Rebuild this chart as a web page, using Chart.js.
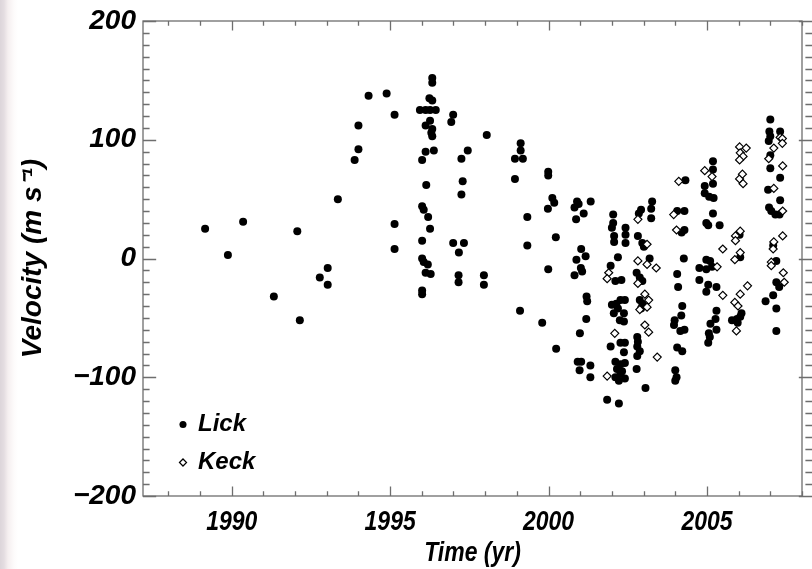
<!DOCTYPE html>
<html>
<head>
<meta charset="utf-8">
<script src="https://cdn.jsdelivr.net/npm/chart.js@4.4.1/dist/chart.umd.min.js"></script>
<style>
  html, body { margin: 0; padding: 0; background: #fff; }
  #wrap { position: relative; width: 812px; height: 569px; overflow: hidden;
          background: linear-gradient(to right, #dcd5da 0px, #e4dde1 4px, #f5eff0 8px, #fdfbfb 14px, #fff 18px); }
  canvas { position: absolute; left: 0; top: 0; }
</style>
</head>
<body>
<div id="wrap"><canvas id="rv" width="812" height="569"></canvas></div>
<script>
// Radial-velocity measurements: observation epoch (yr) and velocity (m/s)
const lickYear = [
  1989.16, 1989.88, 1990.36, 1991.33, 1992.07, 1992.15, 1992.78, 1993.03, 1993.03, 1993.35,
  1993.88, 1994.00, 1994.00, 1994.32, 1994.89, 1995.14, 1995.14, 1995.14, 1995.94, 1996.33,
  1996.33, 1996.24, 1996.33, 1996.12, 1996.26, 1996.44, 1996.26, 1996.12, 1996.33, 1996.30,
  1996.33, 1996.12, 1996.38, 1996.01, 1996.14, 1996.01, 1996.06, 1996.20, 1996.26, 1996.01,
  1996.01, 1996.06, 1996.19, 1996.12, 1996.28, 1996.01, 1996.01, 1996.99, 1996.93, 1997.45,
  1997.25, 1997.29, 1997.25, 1996.99, 1997.33, 1997.17, 1997.16, 1997.16, 1997.96, 1997.96,
  1998.05, 1999.12, 1999.12, 1998.94, 1999.19, 1998.94, 1999.10, 1999.33, 1999.33, 1999.99,
  1999.99, 2000.12, 2000.18, 1999.98, 1999.99, 1999.80, 2000.23, 2000.24, 2000.90, 2000.82,
  2000.95, 2001.11, 2000.87, 2001.33, 2001.03, 2001.17, 2000.88, 2001.02, 2001.06, 2000.82,
  2001.20, 2001.22, 2001.19, 2000.99, 2000.92, 2001.03, 2000.98, 2001.32, 2001.32,
  2002.04, 2002.04, 2002.00, 2002.07, 2002.07, 2002.43, 2002.43, 2002.43, 2002.19, 2001.96,
  2002.11, 2002.30, 2002.00, 2002.14, 2002.27, 2002.41, 2002.19, 2002.06, 2002.38, 2002.25,
  2002.38, 2001.96, 2002.27, 2002.41, 2002.38, 2002.11, 2002.27, 2002.41, 2002.16, 2002.32,
  2002.41, 2002.11, 2002.22, 2002.27, 2001.85, 2002.22,
  2002.85, 2002.92, 2003.27, 2003.24, 2003.24, 2002.82, 2002.96, 2003.01, 2003.19, 2002.78,
  2002.88, 2002.96, 2002.88, 2002.96, 2002.92, 2002.80, 2002.82, 2002.80, 2002.88, 2002.80,
  2002.78, 2003.06,
  2004.32, 2004.06, 2004.29, 2004.20, 2004.29, 2004.27, 2004.06, 2004.09, 2004.22, 2004.19,
  2003.98, 2003.96, 2004.16, 2004.29, 2004.06, 2004.22, 2004.00, 2004.04, 2004.00,
  2005.19, 2005.19, 2005.19, 2004.93, 2004.93, 2005.07, 2005.21, 2005.19, 2004.98, 2005.04,
  2005.40, 2004.98, 2005.10, 2004.76, 2004.98, 2005.16, 2004.76, 2005.04, 2005.30, 2004.98,
  2005.30, 2005.27, 2005.11, 2005.30, 2005.06, 2005.09, 2005.04,
  2006.03, 2006.05, 2006.09, 2006.05, 2005.95, 2005.79, 2005.97,
  2007.00, 2006.97, 2006.95, 2007.00, 2007.31, 2007.00, 2007.00, 2007.31, 2006.93, 2007.31,
  2006.96, 2007.03, 2007.16, 2007.29, 2007.09, 2007.19, 2007.19, 2007.28, 2007.09, 2006.85,
  2007.19, 2007.19
];
const lickVel = [
  25, 3, 31, -32, 23, -52, -16, -8, -22, 50,
  83, 92, 112, 137, 139, 121, 29, 8, 125, 152,
  148, 135, 133, 125, 125, 125, 116, 112, 109, 106,
  103, 90, 91, 83, 62, 44, 41, 35, 25, 15,
  0, -3, -5, -12, -13, -27, -30, 121, 115, 91,
  84, 65, 54, 13, 13, 5, -14, -20, -14, -22,
  104, 97, 91, 84, 84, 67, -44, 35, 11, 73,
  70, 51, 47, 42, -9, -54, 18, -76, 48, 43,
  46, 38, 33, 48, 8, 2, -1, -8, -11, -14,
  -32, -36, -51, -63, -87, -87, -94, -90, -100,
  37, 30, 26, 19, 14, 26, 20, 13, 1, -6,
  -19, -18, -39, -38, -35, -35, -42, -46, -46, -52,
  -53, -74, -71, -71, -79, -87, -89, -88, -93, -95,
  -101, -100, -103, -97, -119, -122,
  38, 41, 48, 42, 34, 19, 13, 10, 0, -12,
  -16, -19, -35, -38, -42, -66, -70, -74, -78, -82,
  -93, -109,
  66, 40, 40, 22, 24, 0, -13, -24, -40, -48,
  -52, -56, -61, -60, -75, -78, -94, -100, -103,
  82, 75, 63, 61, 55, 52, 51, 38, 30, 28,
  28, -1, -2, -8, -9, -7, -18, -22, -24, -28,
  -44, -51, -55, -60, -63, -66, -71,
  20, 1, -46, -49, -51, -52, -54,
  117, 107, 99, 103, 107, 87, 76, 68, 58, 49,
  43, 40, 37, 37, 11, -2, -20, -24, -31, -36,
  -42, -61
];
const keckYear = [
  2001.90, 2001.85, 2002.09, 2001.85, 2002.82, 2003.11, 2002.82, 2003.11, 2003.40, 2002.82,
  2003.04, 2003.16, 2003.11, 2002.88, 2003.04, 2003.16, 2003.43, 2003.95, 2004.11, 2004.04,
  2004.93, 2005.16, 2005.50, 2005.32, 2005.50, 2006.03, 2006.24, 2006.05, 2006.14, 2006.03,
  2006.03, 2006.12, 2006.14, 2006.05, 2005.90, 2005.90, 2005.88, 2006.05, 2006.28, 2006.05,
  2005.88, 2005.98, 2005.93, 2007.31, 2007.38, 2007.38, 2007.11, 2006.95, 2007.39, 2007.11,
  2007.39, 2007.39, 2007.11, 2007.09, 2007.03, 2007.03, 2007.41, 2007.44
];
const keckVel = [
  -12, -17, -63, -99, 33, 12, -2, -5, -8, -21,
  -30, -35, -41, -43, -56, -62, -83, 37, 65, 24,
  74, 69, 8, -7, -31, 94, 93, 89, 86, 83,
  67, 71, 63, 23, 19, 15, -1, 5, -23, -30,
  -37, -40, -61, 102, 101, 97, 93, 84, 78, 59,
  40, 19, 14, 8, -3, -6, -12, -20
];

// Axis ranges and labelled tick values
const yearRange = [1987.2, 2008.0];
const velRange = [-200, 200];
const yearTicks = [1990, 1995, 2000, 2005];
const velTicks = [-200, -100, 0, 100, 200];
const seriesNames = ['Lick', 'Keck'];

const toPoints = (xs, ys) => xs.map((x, i) => ({ x: x, y: ys[i] }));

const AREA = { left: 143, top: 14, right: 802, bottom: 496 };
const W = 812, H = 569;

const FAMILY = '"Liberation Sans", Arial, sans-serif';
const labelFont = { family: FAMILY, size: 28, style: 'italic', weight: 'bold', lineHeight: 1.0 };

// Horizontally condensed text for the time axis (tick labels and title)
function condenseScaleText(scale, factor) {
  if (scale._condensed) return;
  const wrap = (name) => {
    const orig = scale[name].bind(scale);
    scale[name] = function (...args) {
      const ctx = this.ctx;
      const fill = ctx.fillText;
      ctx.fillText = function (t, x, y) {
        return fill.call(this, t, x, y, this.measureText(t).width * factor);
      };
      try { orig(...args); } finally { ctx.fillText = fill; }
    };
  };
  wrap('drawLabels');
  wrap('drawTitle');
  scale._condensed = true;
}

const condensedAxis = {
  id: 'condensedAxis',
  beforeDraw(chart) { condenseScaleText(chart.scales.x, 0.82); }
};

// Box frame with inward major/minor ticks; right-hand ticks hang from the page edge
const frameTicks = {
  id: 'frameTicks',
  afterDatasetsDraw(chart) {
    const { ctx, chartArea: a, scales } = chart;
    const xs = scales.x, ys = scales.y;
    ctx.save();
    ctx.strokeStyle = '#6e6e6e';
    ctx.lineWidth = 1.3;
    ctx.strokeRect(a.left, a.top, a.right - a.left, a.bottom - a.top);
    ctx.beginPath();
    const xMajor = 0.02 * (a.bottom - a.top);
    for (let v = Math.ceil(xs.min); v <= xs.max + 1e-9; v += 1) {
      const px = Math.round(xs.getPixelForValue(v)) + 0.5;
      const len = v % 5 === 0 ? xMajor : xMajor / 2;
      ctx.moveTo(px, a.bottom); ctx.lineTo(px, a.bottom - len);
      ctx.moveTo(px, a.top); ctx.lineTo(px, a.top + len);
    }
    const yMajor = 0.02 * (a.right - a.left);
    const edge = chart.width;
    for (let v = ys.min; v <= ys.max + 1e-9; v += 10) {
      const py = Math.round(ys.getPixelForValue(v)) + 0.5;
      const len = v % 100 === 0 ? yMajor : yMajor / 2;
      ctx.moveTo(a.left, py); ctx.lineTo(a.left + len, py);
      ctx.moveTo(edge, py); ctx.lineTo(edge - len, py);
    }
    ctx.stroke();
    ctx.restore();
  }
};

// Legend sits inside the plot, lower left
const legendPlace = {
  id: 'legendPlace',
  afterLayout(chart) {
    const lg = chart.legend;
    if (!lg) return;
    lg.left = AREA.left + 23;
    lg.bottom = AREA.bottom - 7.5;
  }
};

new Chart(document.getElementById('rv'), {
  type: 'scatter',
  data: {
    datasets: [
      {
        label: seriesNames[0],
        data: toPoints(lickYear, lickVel),
        pointStyle: 'circle',
        pointRadius: 4,
        pointBackgroundColor: '#000',
        backgroundColor: '#000',
        borderColor: '#000',
        pointBorderWidth: 0,
        borderWidth: 0,
        order: 1
      },
      {
        label: seriesNames[1],
        data: toPoints(keckYear, keckVel),
        pointStyle: 'rectRot',
        pointRadius: 4,
        pointBackgroundColor: '#fff',
        backgroundColor: '#fff',
        pointBorderColor: '#000',
        borderColor: '#000',
        pointBorderWidth: 1.2,
        borderWidth: 1.2,
        order: 0
      }
    ]
  },
  options: {
    responsive: false,
    devicePixelRatio: 1,
    animation: false,
    events: [],
    layout: { padding: { left: 0, top: AREA.top, right: W - AREA.right, bottom: 0 } },
    plugins: {
      tooltip: { enabled: false },
      legend: {
        display: true,
        position: 'chartArea',
        align: 'end',
        labels: {
          usePointStyle: true,
          boxWidth: 6,
          boxHeight: 5,
          padding: 14,
          color: '#000',
          font: { family: FAMILY, size: 24, style: 'italic', weight: 'bold' },
          sort: (a, b) => a.datasetIndex - b.datasetIndex
        }
      }
    },
    scales: {
      x: {
        type: 'linear',
        position: 'bottom',
        min: yearRange[0],
        max: yearRange[1],
        grid: { display: false, drawTicks: false },
        border: { display: false },
        afterBuildTicks: (s) => { s.ticks = yearTicks.map(v => ({ value: v })); },
        afterFit: (s) => { s.height = H - AREA.bottom; },
        ticks: {
          padding: 9,
          color: '#000',
          maxRotation: 0,
          autoSkip: false,
          font: { family: FAMILY, size: 28, style: 'italic', weight: 'bold', lineHeight: 1.2 },
          callback: (v) => String(v)
        },
        title: {
          display: true,
          text: 'Time (yr)',
          color: '#000',
          padding: { top: 0, bottom: 0 },
          font: { family: FAMILY, size: 28, style: 'italic', weight: 'bold', lineHeight: 1.1 }
        }
      },
      y: {
        type: 'linear',
        position: 'left',
        min: velRange[0],
        max: velRange[1],
        grid: { display: false, drawTicks: false },
        border: { display: false },
        afterBuildTicks: (s) => { s.ticks = velTicks.map(v => ({ value: v })); },
        afterFit: (s) => { s.width = AREA.left; },
        ticks: {
          padding: 7,
          color: '#000',
          autoSkip: false,
          font: labelFont,
          callback: (v) => (v < 0 ? '\u2212' + Math.abs(v) : String(v))
        },
        title: {
          display: true,
          text: 'Velocity (m s\u207B\u00B9)',
          color: '#000',
          padding: { top: 16, bottom: 0 },
          font: { family: FAMILY, size: 28, style: 'italic', weight: 'bold', lineHeight: 1.2 }
        }
      }
    }
  },
  plugins: [condensedAxis, frameTicks, legendPlace]
});
</script>
</body>
</html>
